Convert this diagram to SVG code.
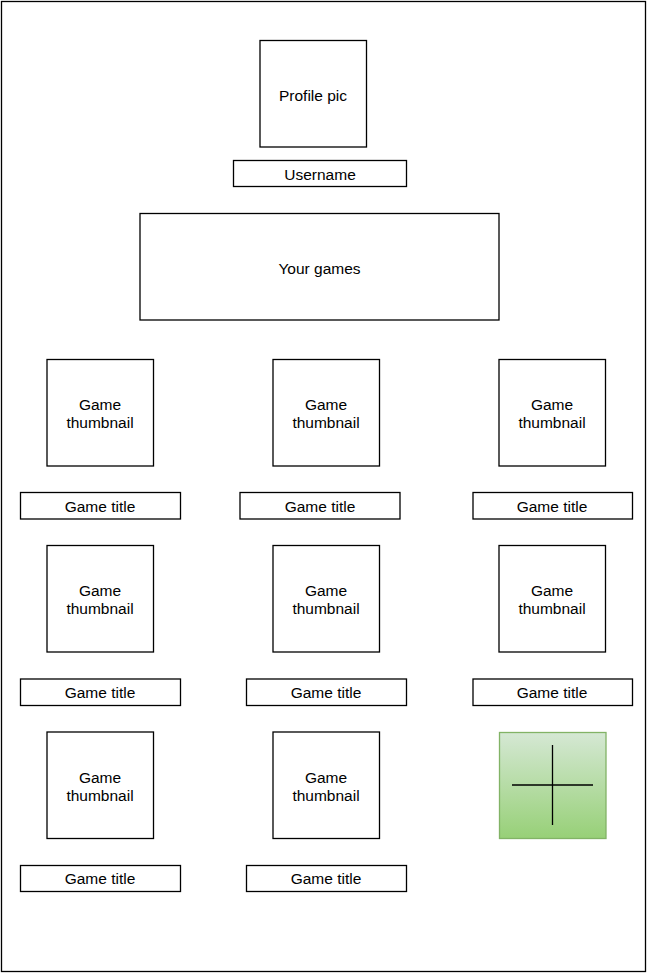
<svg xmlns="http://www.w3.org/2000/svg" width="647" height="973" viewBox="0 0 647 973">
<style>
.b{fill:#fff;stroke:#000;stroke-width:1.3}
.t{font-family:"Liberation Sans",Arial,sans-serif;font-size:15.5px;fill:#000;text-anchor:middle;dominant-baseline:central}
</style>
<defs>
<linearGradient id="g" x1="0" y1="0" x2="0" y2="1">
<stop offset="0" stop-color="#d5e8d4"/>
<stop offset="1" stop-color="#97d077"/>
</linearGradient>
</defs>
<rect width="647" height="973" fill="#fff"/>
<rect id="frame" x="1.5" y="1.5" width="644" height="970" fill="none" stroke="#000" stroke-width="1.3"/>
<g id="profile"><rect class="b" x="260" y="40.5" width="106.5" height="106.5"/><text class="t" x="313" y="95">Profile pic</text></g>
<g id="username"><rect class="b" x="233.5" y="160.5" width="173" height="26"/><text class="t" x="320" y="174">Username</text></g>
<g id="yourgames"><rect class="b" x="140" y="213.5" width="359" height="106.5"/><text class="t" x="319.5" y="268">Your games</text></g>
<g id="thumb1"><rect class="b" x="47" y="359.5" width="106.5" height="106.5"/><text class="t" x="100" y="404">Game</text><text class="t" x="100" y="422">thumbnail</text></g>
<g id="thumb2"><rect class="b" x="273" y="359.5" width="106.5" height="106.5"/><text class="t" x="326" y="404">Game</text><text class="t" x="326" y="422">thumbnail</text></g>
<g id="thumb3"><rect class="b" x="499" y="359.5" width="106.5" height="106.5"/><text class="t" x="552" y="404">Game</text><text class="t" x="552" y="422">thumbnail</text></g>
<g id="title1"><rect class="b" x="20.5" y="492.5" width="160" height="26.5"/><text class="t" x="100" y="506">Game title</text></g>
<g id="title2"><rect class="b" x="240" y="492.5" width="160" height="26.5"/><text class="t" x="320" y="506">Game title</text></g>
<g id="title3"><rect class="b" x="473" y="492.5" width="159.5" height="26.5"/><text class="t" x="552" y="506">Game title</text></g>
<g id="thumb4"><rect class="b" x="47" y="545.5" width="106.5" height="106.5"/><text class="t" x="100" y="590">Game</text><text class="t" x="100" y="608">thumbnail</text></g>
<g id="thumb5"><rect class="b" x="273" y="545.5" width="106.5" height="106.5"/><text class="t" x="326" y="590">Game</text><text class="t" x="326" y="608">thumbnail</text></g>
<g id="thumb6"><rect class="b" x="499" y="545.5" width="106.5" height="106.5"/><text class="t" x="552" y="590">Game</text><text class="t" x="552" y="608">thumbnail</text></g>
<g id="title4"><rect class="b" x="20.5" y="679" width="160" height="26.5"/><text class="t" x="100" y="692">Game title</text></g>
<g id="title5"><rect class="b" x="246.5" y="679" width="160" height="26.5"/><text class="t" x="326" y="692">Game title</text></g>
<g id="title6"><rect class="b" x="473" y="679" width="159.5" height="26.5"/><text class="t" x="552" y="692">Game title</text></g>
<g id="thumb7"><rect class="b" x="47" y="732" width="106.5" height="106.5"/><text class="t" x="100" y="777">Game</text><text class="t" x="100" y="795">thumbnail</text></g>
<g id="thumb8"><rect class="b" x="273" y="732" width="106.5" height="106.5"/><text class="t" x="326" y="777">Game</text><text class="t" x="326" y="795">thumbnail</text></g>
<g id="add"><rect x="499.5" y="732.5" width="106.5" height="106" fill="url(#g)" stroke="#82b366" stroke-width="1.3"/><path d="M512 785H593M552.5 745V825" stroke="#000" stroke-width="1.3" fill="none"/></g>
<g id="title7"><rect class="b" x="20.5" y="865.5" width="160" height="26"/><text class="t" x="100" y="878.5">Game title</text></g>
<g id="title8"><rect class="b" x="246.5" y="865.5" width="160" height="26"/><text class="t" x="326" y="878.5">Game title</text></g>
<g id="connectors"></g>
</svg>
